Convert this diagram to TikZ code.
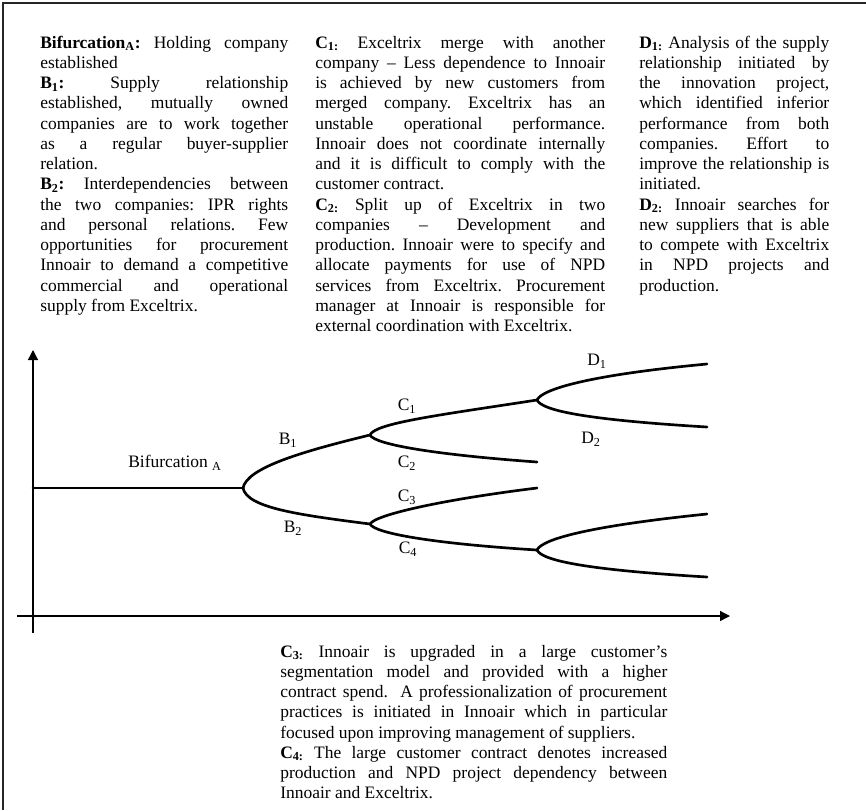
\documentclass[tikz,border=0pt]{standalone}
\usepackage{fontspec}
\setmainfont{Liberation Serif}
\usetikzlibrary{arrows.meta}

% one justified line of a text block (interword glue is allowed to stretch)
\newcommand\jst[1]{\makebox[\hsize][s]{\spaceskip=0pt\xspaceskip=0pt\relax #1}\\}

\tikzset{
  txt/.style={anchor=base west, inner sep=0pt, align=justify,
              font={\fontsize{13.1}{15.2}\selectfont\frenchspacing}},
  lbl/.style={inner sep=0pt, font={\fontsize{13.1}{15.2}\selectfont}},
  branch/.style={line width=2pt, line cap=round},
  axis/.style={line width=1pt, -{Triangle[length=7.5pt,width=7.5pt]}},
  frame/.style={line width=1.1pt, draw=black!85},
}

\begin{document}
\begin{tikzpicture}[x=0.75pt, y=-0.75pt]
\useasboundingbox (0,0) rectangle (866,810);
\fill[white] (0,0) rectangle (866,810);

% page frame (top and left edges)
\draw[frame] (3,810) -- (3,3) -- (866,3);

% ---------- text blocks ----------
\node[txt, text width=186pt] (colA) at (40,48) {%
\jst{\textbf{Bifurcation\textsubscript{A}:} Holding company}
established\\
\jst{\textbf{B\textsubscript{1}:} Supply relationship}
\jst{established, mutually owned}
\jst{companies are to work together}
\jst{as a regular buyer-supplier}
relation.\\
\jst{\textbf{B\textsubscript{2}:} Interdependencies between}
\jst{the two companies: IPR rights}
\jst{and personal relations. Few}
\jst{opportunities for procurement}
\jst{Innoair to demand a competitive}
\jst{commercial and operational}
supply from Exceltrix.};

\node[txt, text width=217.5pt] (colC) at (315,48) {%
\jst{\textbf{C\textsubscript{1:}} Exceltrix merge with another}
\jst{company -- Less dependence to Innoair}
\jst{is achieved by new customers from}
\jst{merged company. Exceltrix has an}
\jst{unstable operational performance.}
\jst{Innoair does not coordinate internally}
\jst{and it is difficult to comply with the}
customer contract.\\
\jst{\textbf{C\textsubscript{2:}} Split up of Exceltrix in two}
\jst{companies -- Development and}
\jst{production. Innoair were to specify and}
\jst{allocate payments for use of NPD}
\jst{services from Exceltrix. Procurement}
\jst{manager at Innoair is responsible for}
external coordination with Exceltrix.};

\node[txt, text width=142.5pt] (colD) at (639,48) {%
\jst{\textbf{D\textsubscript{1:}} Analysis of the supply}
\jst{relationship initiated by}
\jst{the innovation project,}
\jst{which identified inferior}
\jst{performance from both}
\jst{companies. Effort to}
\jst{improve the relationship is}
initiated.\\
\jst{\textbf{D\textsubscript{2:}} Innoair searches for}
\jst{new suppliers that is able}
\jst{to compete with Exceltrix}
\jst{in NPD projects and}
production.};

\node[txt, text width=290.25pt] (colE) at (280,657) {%
\jst{\textbf{C\textsubscript{3:}} Innoair is upgraded in a large customer’s}
\jst{segmentation model and provided with a higher}
\jst{contract spend.\ \ A professionalization of procurement}
\jst{practices is initiated in Innoair which in particular}
focused upon improving management of suppliers.\\
\jst{\textbf{C\textsubscript{4:}} The large customer contract denotes increased}
\jst{production and NPD project dependency between}
Innoair and Exceltrix.};

% ---------- axes ----------
\coordinate (yb) at (33,633);
\coordinate (yt) at (33,350);
\coordinate (xl) at (17,616);
\coordinate (xr) at (730,616);
\draw[axis] (yb) -- (yt);
\draw[axis] (xl) -- (xr);

% ---------- bifurcation tree ----------
\coordinate (s0) at (33,488);
\coordinate (fA) at (243,488);
\coordinate (fB1) at (370,435);
\coordinate (fB2) at (370,524);
\coordinate (fC1) at (537,400);
\coordinate (eC2) at (537,462);
\coordinate (eC3) at (537,488);
\coordinate (fC4) at (537,550);
\coordinate (eD1) at (707,364);
\coordinate (eD2) at (707,427);
\coordinate (eE1) at (707,514);
\coordinate (eE2) at (707,577);

\draw[branch] (s0) -- (fA);
\draw[branch] (fA) .. controls +(4,-20) and +(-70,17) .. (fB1);
\draw[branch] (fA) .. controls +(4,20) and +(-70,-9) .. (fB2);
\draw[branch] (fB1) .. controls +(5,-12) and +(-97,15) .. (fC1);
\draw[branch] (fB1) .. controls +(5,10) and +(-97,-7) .. (eC2);
\draw[branch] (fB2) .. controls +(5,-9) and +(-97,12) .. (eC3);
\draw[branch] (fB2) .. controls +(5,10) and +(-97,-6) .. (fC4);
\draw[branch] (fC1) .. controls +(5,-11) and +(-117,11) .. (eD1);
\draw[branch] (fC1) .. controls +(5,11) and +(-117,-7) .. (eD2);
\draw[branch] (fC4) .. controls +(5,-11) and +(-117,12) .. (eE1);
\draw[branch] (fC4) .. controls +(5,11) and +(-117,-7) .. (eE2);

% ---------- branch labels ----------
\node[lbl] (lA)  at (175,463) {Bifurcation \textsubscript{A}};
\node[lbl] (lB1) at (288,440) {B\textsubscript{1}};
\node[lbl] (lB2) at (293,528) {B\textsubscript{2}};
\node[lbl] (lC1) at (407,406) {C\textsubscript{1}};
\node[lbl] (lC2) at (407,463) {C\textsubscript{2}};
\node[lbl] (lC3) at (407,497) {C\textsubscript{3}};
\node[lbl] (lC4) at (408,549) {C\textsubscript{4}};
\node[lbl] (lD1) at (597,361) {D\textsubscript{1}};
\node[lbl] (lD2) at (591,439) {D\textsubscript{2}};
\end{tikzpicture}
\end{document}
